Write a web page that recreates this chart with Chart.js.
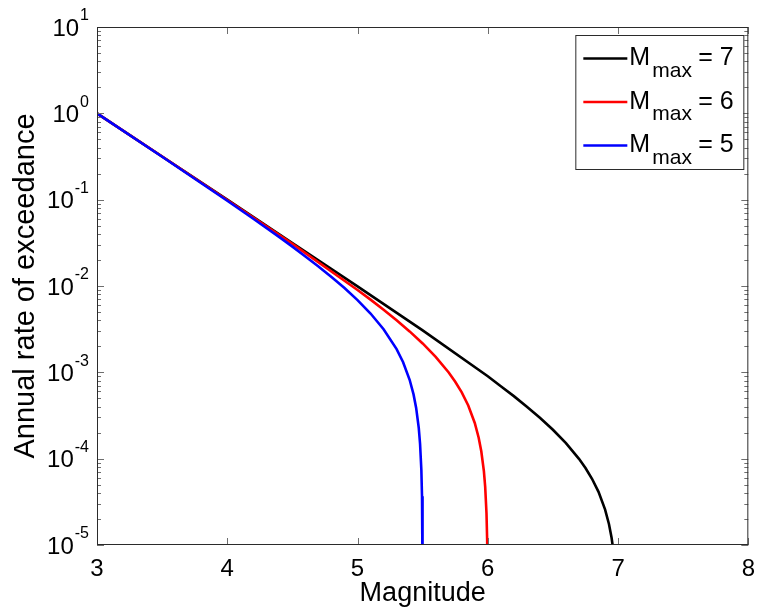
<!DOCTYPE html>
<html>
<head>
<meta charset="utf-8">
<script src="https://cdn.jsdelivr.net/npm/chart.js@4.4.0/dist/chart.umd.min.js"></script>
<style>
html, body { margin: 0; padding: 0; background: #fff; }
#wrap { width: 765px; height: 612px; }
</style>
</head>
<body>
<div id="wrap"><canvas id="myChart" width="765" height="612"></canvas></div>
<script>
// Values
// =======================================================
var mag7 = [3.0, 3.5, 4.0, 4.5, 5.0, 5.5, 6.0, 6.1, 6.2, 6.3, 6.4, 6.5, 6.6, 6.7, 6.75, 6.8, 6.85, 6.9, 6.93, 6.95, 6.965];
var rate7 = [1, 0.316, 0.1, 0.0315, 0.0099, 0.00306, 9.0e-4, 6.9e-4, 5.3e-4, 4.0e-4, 2.98e-4, 2.16e-4, 1.51e-4, 9.95e-5, 7.8e-5, 5.85e-5, 4.13e-5, 2.59e-5, 1.75e-5, 1.22e-5, 8.4e-6];

var mag6 = [3.0, 3.5, 4.0, 4.5, 5.0, 5.1, 5.2, 5.3, 5.4, 5.5, 5.6, 5.7, 5.75, 5.8, 5.85, 5.9, 5.93, 5.95, 5.97, 5.98, 5.99, 5.995, 5.997];
var rate6 = [1, 0.316, 0.0991, 0.0307, 0.0090, 0.00695, 0.00532, 0.00402, 0.00298, 0.00216, 0.00151, 9.96e-4, 7.78e-4, 5.86e-4, 4.13e-4, 2.59e-4, 1.75e-4, 1.22e-4, 7.16e-5, 4.71e-5, 2.33e-5, 1.16e-5, 6.9e-6];

var mag5 = [3.0, 3.5, 4.0, 4.2, 4.4, 4.5, 4.6, 4.7, 4.8, 4.9, 5.0, 5.1, 5.2, 5.3, 5.35, 5.4, 5.43, 5.45, 5.47, 5.48, 5.49, 5.495, 5.498, 5.5];
var rate5 = [1, 0.3141, 0.0971, 0.0601, 0.0368, 0.0286, 0.0220, 0.01684, 0.0127, 0.00946, 0.00686, 0.0048, 0.00316, 0.00186, 0.00131, 8.2e-4, 5.55e-4, 3.87e-4, 2.27e-4, 1.49e-4, 7.4e-5, 3.67e-5, 1.46e-5, 5.0e-6];

var legendMax = ["7", "6", "5"];
var legendColors = ["#000000", "#ff0000", "#0000ff"];

var xTicks = [3, 4, 5, 6, 7, 8];
var yExps = [-5, -4, -3, -2, -1, 0, 1];

var FONT = "'Liberation Sans', Arial, sans-serif";

function toPoints(mags, rates) {
    return mags.map(function (m, i) { return { x: m, y: rates[i] }; });
}

// Box, inside ticks and the 10^n labels like the original figure
// =======================================================
var axesPlugin = {
    id: "axesBox",
    afterDatasetsDraw: function (chart) {
        var ctx = chart.ctx;
        var a = chart.chartArea;
        var xs = chart.scales.x;
        var ys = chart.scales.y;
        ctx.save();

        // tick marks
        ctx.strokeStyle = "#6e6e6e";
        ctx.lineWidth = 1;
        ctx.beginPath();
        xTicks.forEach(function (t) {
            var px = Math.round(xs.getPixelForValue(t)) + 0.5;
            ctx.moveTo(px, a.bottom); ctx.lineTo(px, a.bottom - 7);
            ctx.moveTo(px, a.top); ctx.lineTo(px, a.top + 7);
        });
        yExps.forEach(function (e) {
            var py = Math.round(ys.getPixelForValue(Math.pow(10, e))) + 0.5;
            ctx.moveTo(a.left, py); ctx.lineTo(a.left + 7, py);
            ctx.moveTo(a.right, py); ctx.lineTo(a.right - 7, py);
            if (e < 1) {
                for (var k = 2; k <= 9; k++) {
                    var my = Math.round(ys.getPixelForValue(k * Math.pow(10, e))) + 0.5;
                    ctx.moveTo(a.left, my); ctx.lineTo(a.left + 4, my);
                    ctx.moveTo(a.right, my); ctx.lineTo(a.right - 4, my);
                }
            }
        });
        ctx.stroke();

        // frame
        ctx.strokeStyle = "#2b2b2b";
        ctx.strokeRect(a.left + 0.5, a.top + 0.5, a.right - a.left - 1, a.bottom - a.top - 1);
        ctx.restore();
    },
    afterDraw: function (chart) {
        var ctx = chart.ctx;
        var a = chart.chartArea;
        var ys = chart.scales.y;
        ctx.save();
        ctx.fillStyle = "#000";
        ctx.textBaseline = "alphabetic";

        // y tick labels 10^n
        yExps.forEach(function (e) {
            var py = ys.getPixelForValue(Math.pow(10, e));
            ctx.font = "24px " + FONT;
            var w1 = ctx.measureText("10").width;
            ctx.font = "16px " + FONT;
            var sup = String(e);
            var w2 = ctx.measureText(sup).width;
            var x0 = a.left - 9 - w1 - w2;
            ctx.font = "24px " + FONT;
            ctx.fillText("10", x0, py + 8.6);
            ctx.font = "16px " + FONT;
            ctx.fillText(sup, x0 + w1 + 1, py - 6.6);
        });

        // legend box
        var bx = a.right - 173, by = a.top + 8, bw = 168, bh = 134;
        ctx.fillStyle = "#fff";
        ctx.fillRect(bx, by, bw, bh);
        ctx.strokeStyle = "#2b2b2b";
        ctx.lineWidth = 1;
        ctx.strokeRect(bx + 0.5, by + 0.5, bw, bh);

        legendMax.forEach(function (v, i) {
            var ly = by + 23.5 + i * 43.5;
            ctx.strokeStyle = legendColors[i];
            ctx.lineWidth = 2.5;
            ctx.beginPath();
            ctx.moveTo(bx + 8, ly);
            ctx.lineTo(bx + 52, ly);
            ctx.stroke();

            ctx.fillStyle = "#000";
            ctx.font = "25px " + FONT;
            ctx.fillText("M", bx + 54, ly + 6.7);
            ctx.font = "21px " + FONT;
            ctx.fillText("max", bx + 77, ly + 18.4);
            ctx.font = "25px " + FONT;
            ctx.fillText("= " + v, bx + 123, ly + 6.7);
        });
        ctx.restore();
    }
};

var ctx = document.getElementById("myChart");

var myChart = new Chart(ctx, {
    type: "scatter",
    data: {
        datasets: [{
            label: "Mmax = 5",
            data: toPoints(mag5, rate5),
            borderColor: "#0000ff"
        }, {
            label: "Mmax = 6",
            data: toPoints(mag6, rate6),
            borderColor: "#ff0000"
        }, {
            label: "Mmax = 7",
            data: toPoints(mag7, rate7),
            borderColor: "#000000"
        }]
    },
    options: {
        responsive: false,
        animation: false,
        showLine: true,
        elements: {
            point: { radius: 0, hoverRadius: 0 },
            line: { borderWidth: 2.6, tension: 0, fill: false }
        },
        layout: { padding: { top: 27, right: 11, left: 0, bottom: 0 } },
        plugins: {
            legend: { display: false },
            tooltip: { enabled: false }
        },
        scales: {
            x: {
                type: "linear",
                min: 3,
                max: 8,
                afterBuildTicks: function (s) {
                    s.ticks = xTicks.map(function (v) { return { value: v }; });
                },
                ticks: {
                    color: "#000",
                    padding: 10,
                    maxRotation: 0,
                    font: { family: FONT, size: 24 }
                },
                grid: { display: false, drawTicks: false },
                border: { display: false },
                title: {
                    display: true,
                    text: "Magnitude",
                    color: "#000",
                    font: { family: FONT, size: 27 },
                    padding: { top: 0, bottom: 2 }
                },
                afterFit: function (s) { s.height = 67; }
            },
            y: {
                type: "logarithmic",
                min: 1e-5,
                max: 10,
                ticks: { display: false },
                grid: { display: false, drawTicks: false },
                border: { display: false },
                title: {
                    display: true,
                    text: "Annual rate of exceedance",
                    color: "#000",
                    font: { family: FONT, size: 29 },
                    padding: { top: 9, bottom: 0 }
                },
                afterFit: function (s) { s.width = 97; }
            }
        }
    },
    plugins: [axesPlugin]
});
</script>
</body>
</html>
